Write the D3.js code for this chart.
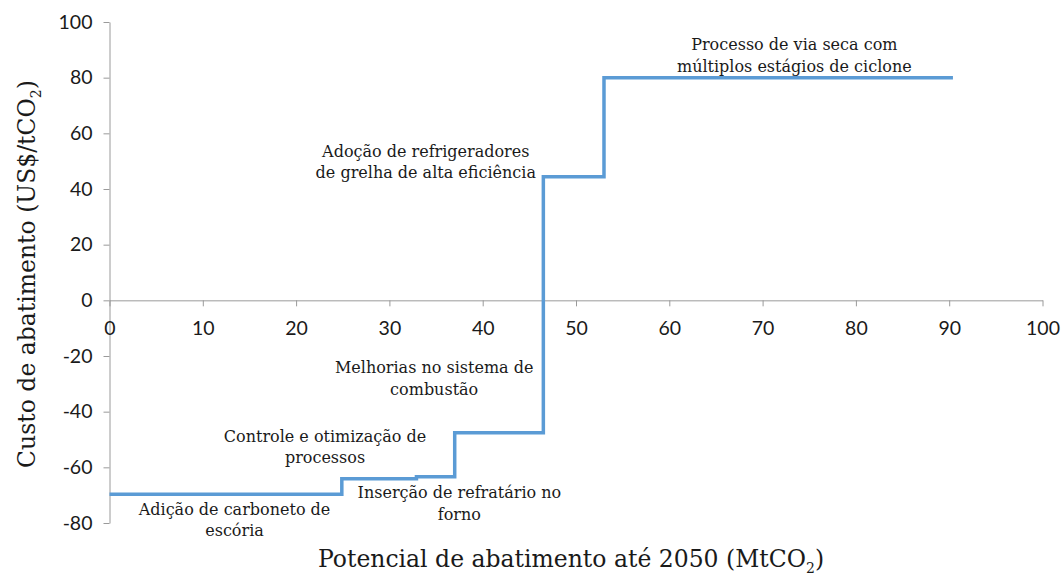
<!DOCTYPE html>
<html>
<head>
<meta charset="utf-8">
<script src="https://cdn.jsdelivr.net/npm/d3@7"></script>
<style>
    body { margin: 0; background: #fff; }
    .tick text { font-family: Lato, sans-serif; font-size: 19.5px; fill: #1a1a1a; }
    .note { font-family: "DejaVu Serif", serif; font-size: 16px; fill: #1a1a1a; }
    .title { font-family: "DejaVu Serif", serif; font-size: 23.5px; fill: #1a1a1a; }
</style>
</head>
<body>
<div id="chart"></div>
<script>
//  Chart data: abatement cost curve (steps)
var step_start      =   [ 0, 24.9, 32.9, 37.0, 46.5, 53.0 ];
var step_end        =   [ 24.9, 32.9, 37.0, 46.5, 53.0, 90.4 ];
var step_cost       =   [ -69.7, -64.1, -63.4, -47.6, 44.4, 80.0 ];

var step_labels     =   [
    [ "Adição de carboneto de", "escória" ],
    [ "Controle e otimização de", "processos" ],
    [ "Inserção de refratário no", "forno" ],
    [ "Melhorias no sistema de", "combustão" ],
    [ "Adoção de refrigeradores", "de grelha de alta eficiência" ],
    [ "Processo de via seca com", "múltiplos estágios de ciclone" ]
];

var x_ticks         =   [ 0, 10, 20, 30, 40, 50, 60, 70, 80, 90, 100 ];
var y_ticks         =   [ -80, -60, -40, -20, 0, 20, 40, 60, 80, 100 ];


//  Define width and height
var chart_width     =   1064;
var chart_height    =   577;
var plot_left       =   109.5;
var plot_right      =   1042.5;
var plot_top        =   22;
var plot_bottom     =   523;


var x = d3.scaleLinear().domain([ 0, 100 ]).range([ plot_left, plot_right ]);
var y = d3.scaleLinear().domain([ -80, 100 ]).range([ plot_bottom, plot_top ]);


var svg = d3.select("#chart")
    .append("svg")
    .attr("width", chart_width)
    .attr("height", chart_height);


// Axes (plain hyphen for negatives, like the original)
var plain = function(d){ return String(d); };

svg.append("g")
    .attr("transform", "translate(" + x(0) + ",0)")
    .call(d3.axisLeft(y).tickValues(y_ticks).tickFormat(plain)
        .tickSizeOuter(0).tickSizeInner(6).tickPadding(11));

svg.append("g")
    .attr("transform", "translate(0," + y(0) + ")")
    .call(d3.axisBottom(x).tickValues(x_ticks).tickFormat(plain)
        .tickSizeOuter(0).tickSizeInner(6).tickPadding(15));

svg.selectAll(".domain, .tick line").attr("stroke", "#9a9a9a").attr("stroke-width", 1);


// Step line
var points = [];
step_start.forEach(function(s, i){
    points.push([ s, step_cost[i] ]);
    points.push([ step_end[i], step_cost[i] ]);
});

var line = d3.line()
    .x(function(d){ return x(d[0]); })
    .y(function(d){ return y(d[1]); });

svg.append("path")
    .datum(points)
    .attr("fill", "none")
    .attr("stroke", "#5b9bd5")
    .attr("stroke-width", 3.5)
    .attr("stroke-linejoin", "miter")
    .attr("d", line);


// Labels: anchor in data units (centre x, first baseline y)
var label_anchor    =   [
    [ 13.4, -77.1 ],
    [ 23.1, -50.8 ],
    [ 37.5, -71.1 ],
    [ 34.8, -26.2 ],
    [ 33.9, 51.6 ],
    [ 73.4, 89.9 ]
];

step_labels.forEach(function(lines, i){
    var t = svg.append("text")
        .attr("class", "note")
        .attr("text-anchor", "middle")
        .attr("x", x(label_anchor[i][0]))
        .attr("y", y(label_anchor[i][1]));
    lines.forEach(function(l, j){
        t.append("tspan")
            .attr("x", x(label_anchor[i][0]))
            .attr("dy", j === 0 ? 0 : 21.5)
            .text(l);
    });
});


// Axis titles
var xt = svg.append("text")
    .attr("class", "title")
    .attr("text-anchor", "middle")
    .attr("x", 571)
    .attr("y", 567);
xt.append("tspan").text("Potencial de abatimento até 2050 (MtCO");
xt.append("tspan").attr("font-size", "14px").attr("dy", 6).text("2");
xt.append("tspan").attr("dy", -6).text(")");

var yt = svg.append("text")
    .attr("class", "title")
    .attr("text-anchor", "middle")
    .attr("transform", "translate(35,274) rotate(-90)");
yt.append("tspan").text("Custo de abatimento (US$/tCO");
yt.append("tspan").attr("font-size", "14px").attr("dy", 6).text("2");
yt.append("tspan").attr("dy", -6).text(")");
</script>
</body>
</html>
